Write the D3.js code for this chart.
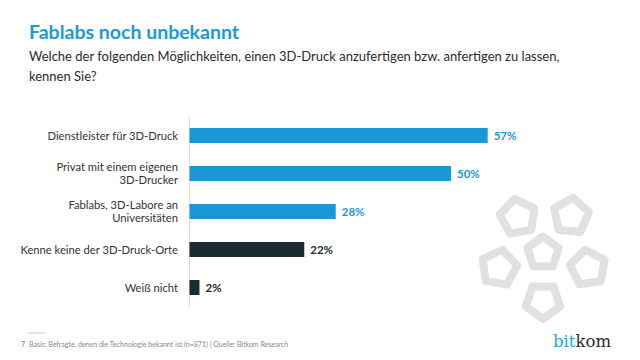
<!DOCTYPE html>
<html>
<head>
<meta charset="utf-8">
<script src="https://cdn.jsdelivr.net/npm/d3@7"></script>
<style>
  html, body { margin: 0; padding: 0; background: #fff; }
  svg { display: block; font-family: Lato, "Open Sans", sans-serif; }
</style>
</head>
<body>
<svg id="chart" width="640" height="360"></svg>
<script>
// ---- data ----
const categories = [
  "Dienstleister für 3D-Druck",
  "Privat mit einem eigenen\n3D-Drucker",
  "Fablabs, 3D-Labore an\nUniversitäten",
  "Kenne keine der 3D-Druck-Orte",
  "Weiß nicht"
];
const values = [57, 50, 28, 22, 2];
const groups = ["known", "known", "known", "none", "none"];
const valueSuffix = "%";

const title = "Fablabs noch unbekannt";
const subtitleLines = [
  "Welche der folgenden Möglichkeiten, einen 3D-Druck anzufertigen bzw. anfertigen zu lassen,",
  "kennen Sie?"
];
const footnote = "Basis: Befragte, denen die Technologie bekannt ist (n=871) | Quelle: Bitkom Research";
const pageNumber = "7";

// ---- styling ----
const BLUE = "#1a98d5";
const DARK = "#1c2a31";
const colorOf = g => g === "known" ? BLUE : DARK;

const svg = d3.select("#chart");

// title
svg.append("text")
  .attr("x", 29).attr("y", 39)
  .attr("font-size", 19.5).attr("font-weight", 700)
  .attr("fill", "#1b9ad6")
  .text(title);

svg.selectAll("text.sub").data(subtitleLines).join("text")
  .attr("class", "sub")
  .attr("x", 29).attr("y", (d, i) => 61 + i * 20)
  .attr("font-size", 13).attr("fill", "#2b2b2b")
  .text(d => d);

// decorative pentagons
const pentas = [
  { cx: 518, cy: 217, r: 18.5, rot: -10 },
  { cx: 571, cy: 216, r: 18.5, rot: 6 },
  { cx: 543, cy: 253, r: 16.5, rot: 0 },
  { cx: 499, cy: 268, r: 18.5, rot: 10 },
  { cx: 588, cy: 268, r: 18.5, rot: -8 },
  { cx: 543, cy: 301, r: 18, rot: 36 }
];
const lineGen = d3.line().curve(d3.curveLinearClosed);
svg.append("g").selectAll("path").data(pentas).join("path")
  .attr("d", p => lineGen(d3.range(5).map(k => {
    const a = (p.rot - 90 + k * 72) * Math.PI / 180;
    return [p.cx + p.r * Math.cos(a), p.cy + p.r * Math.sin(a)];
  })))
  .attr("fill", "none")
  .attr("stroke", "#e1e1e1")
  .attr("stroke-width", 8)
  .attr("stroke-linejoin", "round");

// scales
const x = d3.scaleLinear().domain([0, 100]).range([189, 713]);
const y = d3.scaleBand().domain(categories).range([116.5, 306.5])
  .paddingInner(0.605).paddingOuter(0.3026);

// axis (vertical baseline, no ticks)
const yAxis = d3.axisLeft(y).tickSize(0).tickFormat("");
const axG = svg.append("g").attr("transform", `translate(${x(0)},0)`).call(yAxis);
axG.select(".domain").attr("stroke", "#dcdcdc").attr("stroke-width", 1);

// bars
const data = categories.map((c, i) => ({ c, v: values[i], g: groups[i] }));
svg.append("g").selectAll("rect").data(data).join("rect")
  .attr("x", x(0) + 0.5)
  .attr("y", d => y(d.c))
  .attr("width", d => x(d.v) - x(0) - 0.5)
  .attr("height", y.bandwidth())
  .attr("fill", d => colorOf(d.g));

// value labels
svg.append("g").selectAll("text").data(data).join("text")
  .attr("x", d => x(d.v) + 6)
  .attr("y", d => y(d.c) + y.bandwidth() / 2)
  .attr("dy", "0.36em")
  .attr("font-size", 11.5).attr("font-weight", 700)
  .attr("fill", d => colorOf(d.g))
  .text(d => d.v + valueSuffix);

// category labels
const lbl = svg.append("g").selectAll("text").data(data).join("text")
  .attr("text-anchor", "end")
  .attr("font-size", 11.2).attr("fill", "#333");
lbl.each(function(d) {
  const lines = d.c.split("\n");
  const cy = y(d.c) + y.bandwidth() / 2;
  const lh = 13;
  const t = d3.select(this);
  lines.forEach((ln, i) => {
    t.append("tspan")
      .attr("x", 178)
      .attr("y", cy + (i - (lines.length - 1) / 2) * lh)
      .attr("dy", "0.36em")
      .text(ln);
  });
});

// footer
svg.append("line").attr("x1", 28).attr("x2", 45).attr("y1", 333).attr("y2", 333)
  .attr("stroke", "#c8c8c8").attr("stroke-width", 1);
svg.append("text").attr("x", 21).attr("y", 347)
  .attr("font-size", 7).attr("fill", "#777").text(pageNumber);
svg.append("text").attr("x", 29).attr("y", 347)
  .attr("font-size", 7).attr("fill", "#888").text(footnote);

const logo = svg.append("text").attr("x", 553).attr("y", 347)
  .attr("font-size", 16.5).attr("font-family", "'DejaVu Serif', serif");
logo.append("tspan").attr("fill", "#2aa3db").text("bit");
logo.append("tspan").attr("fill", "#1f2b33").text("kom");
</script>
</body>
</html>
